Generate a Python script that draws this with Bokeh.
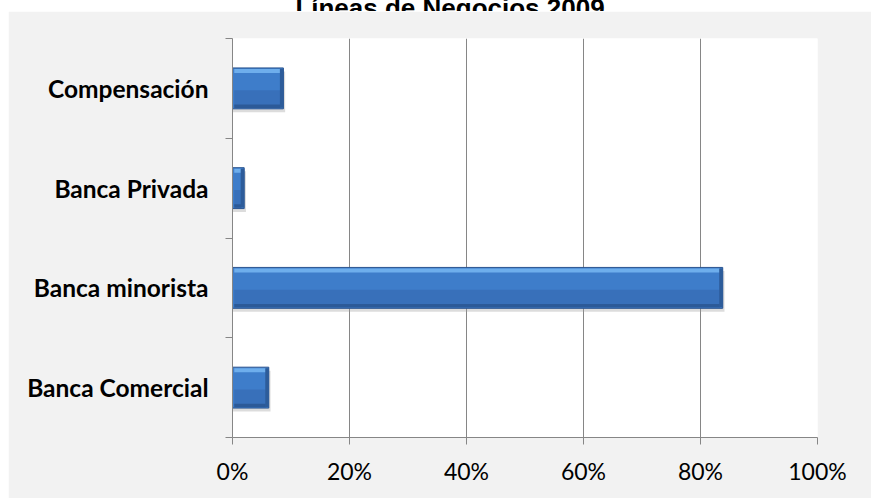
from bokeh.plotting import figure
from bokeh.models import Range1d, FixedTicker, NumeralTickFormatter, Label, ColumnDataSource
from bokeh.transform import dodge
from bokeh.embed import file_html
from bokeh.resources import INLINE

# ---- data ----
categories = ["Banca Comercial", "Banca minorista", "Banca Privada", "Compensación"]
shares = [0.062, 0.838, 0.020, 0.087]
x_ticks = [0, 0.2, 0.4, 0.6, 0.8, 1.0]
title_text = "Líneas de Negocios 2009"

# ---- styles ----
GRAY_BG = "#f2f2f2"
AXIS_GRAY = "#868686"
W = 863
TITLE_H = 31
MAIN_H = 487
BAR_H = 0.41

# ---- title strip (partly cut off at the top, as in the reference) ----
tf = figure(width=W, height=TITLE_H, x_range=Range1d(0, W), y_range=Range1d(0, TITLE_H),
            toolbar_location=None, output_backend="svg",
            min_border=0, min_border_left=0, min_border_right=0, min_border_top=0, min_border_bottom=0,
            x_axis_location=None, y_axis_location=None,
            background_fill_color="white", border_fill_color="white", outline_line_color=None)
tf.styles = {"position": "absolute", "left": "8px", "top": "-20px"}
tf.grid.visible = False
tf.add_layout(Label(x=441.5, y=4, text=title_text, text_align="center", text_baseline="alphabetic",
                    text_font="Liberation Sans", text_font_style="bold", text_font_size="26px",
                    text_color="black"))

# ---- main chart ----
n = len(categories)
centers = [i + 0.5 for i in range(n)]
boundaries = list(range(n + 1))
src = ColumnDataSource(dict(
    y=centers,
    right=shares,
    right_sh=[s + 0.003 for s in shares],
    right_in=[s - 0.005 for s in shares],
    right_end=[s - 0.006 for s in shares],
    cat=categories,
))

p = figure(width=W, height=MAIN_H, x_range=Range1d(0, 1), y_range=Range1d(0, n),
           toolbar_location=None, output_backend="svg",
           min_border_left=224, min_border_right=54, min_border_top=27, min_border_bottom=61,
           background_fill_color="white", border_fill_color=GRAY_BG, outline_line_color=None)
p.styles = {"position": "absolute", "left": "8px", "top": "11px"}

# x axis
p.xaxis.ticker = FixedTicker(ticks=x_ticks)
p.xaxis.formatter = NumeralTickFormatter(format="0%")
p.xaxis.axis_line_color = AXIS_GRAY
p.xaxis.major_tick_line_color = AXIS_GRAY
p.xaxis.major_tick_in = 0
p.xaxis.major_tick_out = 7
p.xaxis.minor_tick_line_color = None
p.xaxis.major_label_text_font = "Lato"
p.xaxis.major_label_text_font_size = "23px"
p.xaxis.major_label_text_color = "black"
p.xaxis.major_label_standoff = 12

# y axis: labels at category centres, ticks at category boundaries
p.yaxis.ticker = FixedTicker(ticks=centers, minor_ticks=boundaries)
p.yaxis.major_label_overrides = {c: name for c, name in zip(centers, categories)}
p.yaxis.axis_line_color = AXIS_GRAY
p.yaxis.major_tick_line_color = None
p.yaxis.major_tick_in = 0
p.yaxis.major_tick_out = 0
p.yaxis.minor_tick_line_color = AXIS_GRAY
p.yaxis.minor_tick_in = 0
p.yaxis.minor_tick_out = 7
p.yaxis.major_label_standoff = 17
p.yaxis.major_label_text_font = "Lato"
p.yaxis.major_label_text_font_style = "bold"
p.yaxis.major_label_text_font_size = "24.5px"
p.yaxis.major_label_text_color = "black"

# grid
p.xgrid.ticker = FixedTicker(ticks=x_ticks)
p.xgrid.grid_line_color = AXIS_GRAY
p.ygrid.visible = False

# bars (bevel look built from layered strips)
p.hbar(y=dodge("y", -0.035), left=0, right="right_sh", height=BAR_H, source=src,
       fill_color="#9a9a9a", fill_alpha=0.35, line_color=None)
p.hbar(y="y", left=0, right="right", height=BAR_H, source=src,
       fill_color="#3e7dca", line_color="#2b5590", line_width=1)
p.hbar(y=dodge("y", -0.1), left=0.003, right="right_in", height=0.16, source=src,
       fill_color="#3870ba", line_color=None)
p.hbar(y=dodge("y", -0.18), left=0.003, right="right_in", height=0.035, source=src,
       fill_color="#2c5a98", line_color=None)
p.hbar(y=dodge("y", 0.175), left=0.003, right="right_in", height=0.04, source=src,
       fill_color="#6eaeec", line_color=None)
p.hbar(y="y", left="right_end", right="right", height=BAR_H - 0.02, source=src,
       fill_color="#2d5c9a", line_color=None)

open("out.html", "w").write(file_html([tf, p], INLINE))
